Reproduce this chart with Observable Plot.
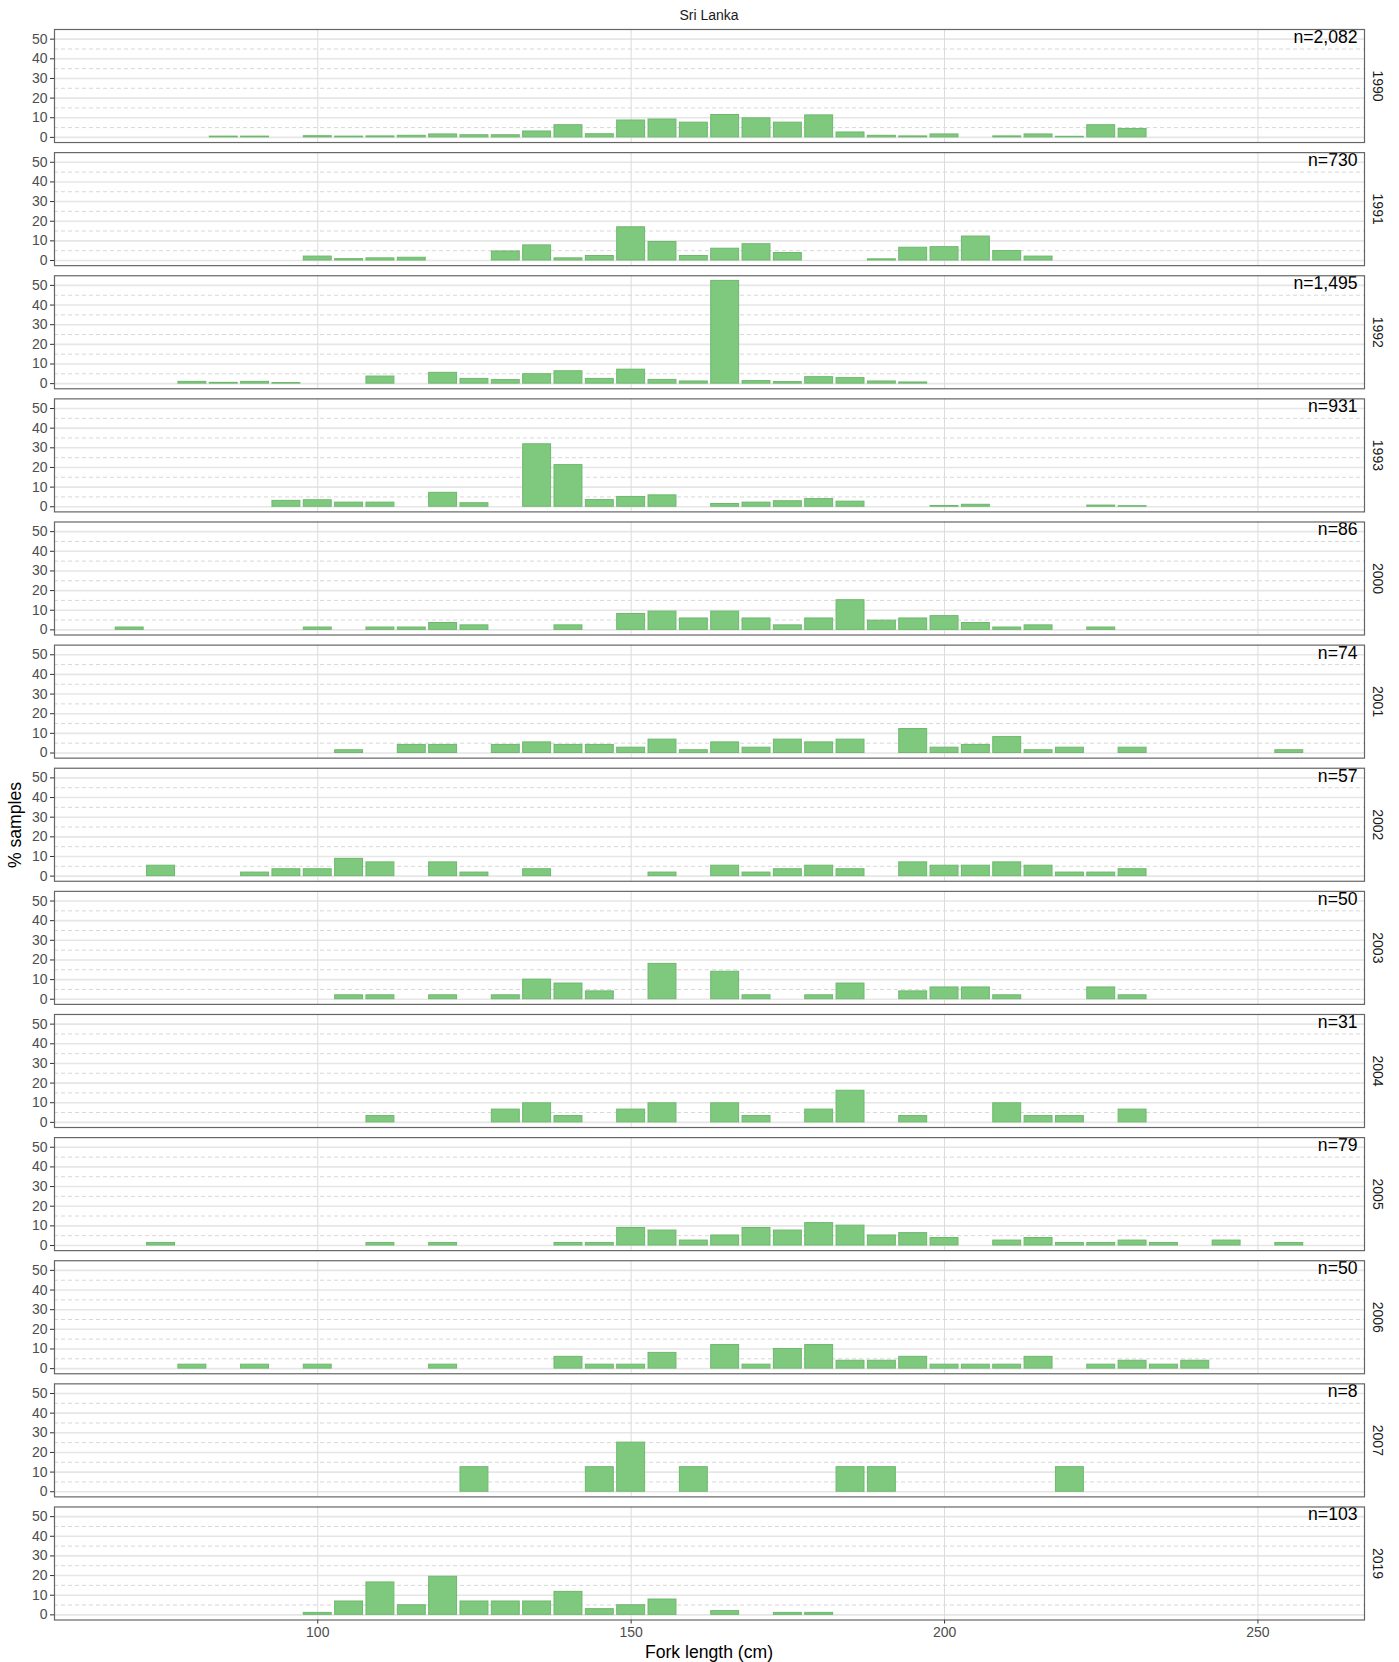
<!DOCTYPE html>
<html>
<head>
<meta charset="utf-8">
<script src="https://cdn.jsdelivr.net/npm/d3@7"></script>
<script src="https://cdn.jsdelivr.net/npm/@observablehq/plot@0.6"></script>
<style>
  body { margin: 0; background: #fff; font-family: "Liberation Sans", Arial, sans-serif; }
  #wrap { position: relative; width: 1399px; height: 1662px; }
  #title { position: absolute; top: 7px; left: 54px; width: 1310px; text-align: center; font-size: 14px; line-height: 16px; color: #1a1a1a; }
  #ylab { position: absolute; left: 15px; top: 825px; transform: translate(-50%, -50%) rotate(-90deg); font-size: 17.6px; white-space: nowrap; color: #000; }
  #xlab { position: absolute; top: 1642px; left: 54px; width: 1310px; text-align: center; font-size: 17.6px; line-height: 20px; color: #000; }
  #chart { position: absolute; left: 0; top: 0; }
</style>
</head>
<body>
<div id="wrap">
  <div id="chart"></div>
  <div id="title">Sri Lanka</div>
  <div id="ylab">% samples</div>
  <div id="xlab">Fork length (cm)</div>
</div>
<script>
// Sampling years (one facet row each) and the number of fish measured per year
const years = ["1990", "1991", "1992", "1993", "2000", "2001", "2002", "2003", "2004", "2005", "2006", "2007", "2019"];
const sampleSizes = [2082, 730, 1495, 931, 86, 74, 57, 50, 31, 79, 50, 8, 103];

// Length-frequency per year: [5 cm bin centre (cm), % of samples]
const f1990 = [[85,0.4],[90,0.4],[100,0.6],[105,0.4],[110,0.5],[115,0.8],[120,1.5],[125,1.1],[130,1.1],[135,3.0],[140,6.2],[145,1.6],[150,8.6],[155,9.1],[160,7.5],[165,11.4],[170,9.7],[175,7.5],[180,11.2],[185,2.5],[190,0.8],[195,0.5],[200,1.5],[210,0.5],[215,1.5],[220,0.3],[225,6.2],[230,4.3]];
const f1991 = [[100,2.0],[105,0.7],[110,1.1],[115,1.4],[130,4.6],[135,7.7],[140,1.1],[145,2.3],[150,16.9],[155,9.4],[160,2.3],[165,6.0],[170,8.3],[175,3.8],[190,0.6],[195,6.5],[200,6.8],[205,12.2],[210,4.8],[215,2.0]];
const f1992 = [[80,0.9],[85,0.4],[90,0.9],[95,0.3],[110,3.6],[120,5.5],[125,2.4],[130,1.8],[135,4.8],[140,6.3],[145,2.4],[150,7.1],[155,1.9],[160,1.1],[165,52.3],[170,1.3],[175,0.8],[180,3.3],[185,2.8],[190,1.1],[195,0.6]];
const f1993 = [[95,3.0],[100,3.3],[105,2.1],[110,2.1],[120,7.1],[125,1.8],[135,31.8],[140,21.2],[145,3.4],[150,5.0],[155,5.8],[165,1.4],[170,2.1],[175,2.8],[180,3.9],[185,2.6],[200,0.4],[205,1.0],[225,0.6],[230,0.3]];
const f2000 = [[70,1.2],[100,1.2],[110,1.2],[115,1.2],[120,3.5],[125,2.3],[140,2.3],[150,8.1],[155,9.3],[160,5.8],[165,9.3],[170,5.8],[175,2.3],[180,5.8],[185,15.1],[190,4.7],[195,5.8],[200,7.0],[205,3.5],[210,1.2],[215,2.3],[225,1.2]];
const f2001 = [[105,1.4],[115,4.1],[120,4.1],[130,4.1],[135,5.4],[140,4.1],[145,4.1],[150,2.7],[155,6.8],[160,1.4],[165,5.4],[170,2.7],[175,6.8],[180,5.4],[185,6.8],[195,12.2],[200,2.7],[205,4.1],[210,8.1],[215,1.4],[220,2.7],[230,2.7],[255,1.4]];
const f2002 = [[75,5.3],[90,1.8],[95,3.5],[100,3.5],[105,8.8],[110,7.0],[120,7.0],[125,1.8],[135,3.5],[155,1.8],[165,5.3],[170,1.8],[175,3.5],[180,5.3],[185,3.5],[195,7.0],[200,5.3],[205,5.3],[210,7.0],[215,5.3],[220,1.8],[225,1.8],[230,3.5]];
const f2003 = [[105,2],[110,2],[120,2],[130,2],[135,10],[140,8],[145,4],[155,18],[165,14],[170,2],[180,2],[185,8],[195,4],[200,6],[205,6],[210,2],[225,6],[230,2]];
const f2004 = [[110,3.2],[130,6.5],[135,9.7],[140,3.2],[150,6.5],[155,9.7],[165,9.7],[170,3.2],[180,6.5],[185,16.1],[195,3.2],[210,9.7],[215,3.2],[220,3.2],[230,6.5]];
const f2005 = [[75,1.3],[110,1.3],[120,1.3],[140,1.3],[145,1.3],[150,8.9],[155,7.6],[160,2.5],[165,5.1],[170,8.9],[175,7.6],[180,11.4],[185,10.1],[190,5.1],[195,6.3],[200,3.8],[210,2.5],[215,3.8],[220,1.3],[225,1.3],[230,2.5],[235,1.3],[245,2.5],[255,1.3]];
const f2006 = [[80,2],[90,2],[100,2],[120,2],[140,6],[145,2],[150,2],[155,8],[165,12],[170,2],[175,10],[180,12],[185,4],[190,4],[195,6],[200,2],[205,2],[210,2],[215,6],[225,2],[230,4],[235,2],[240,4]];
const f2007 = [[125,12.5],[145,12.5],[150,25],[160,12.5],[185,12.5],[190,12.5],[220,12.5]];
const f2019 = [[100,1.0],[105,6.8],[110,16.5],[115,4.9],[120,19.4],[125,6.8],[130,6.8],[135,6.8],[140,11.7],[145,2.9],[150,4.9],[155,7.8],[165,1.9],[175,1.0],[180,1.0]];

// Axis ticks and bin layout
const xTicks = [100, 150, 200, 250];
const yTicks = [0, 10, 20, 30, 40, 50];
const yMinor = [5, 15, 25, 35, 45];
const binWidth = 5;

const series = [f1990, f1991, f1992, f1993, f2000, f2001, f2002, f2003, f2004, f2005, f2006, f2007, f2019];
const rows = years.flatMap((yr, i) => series[i].map(([bin, pct]) => ({year: yr, bin, pct})));
const counts = years.map((yr, i) => ({year: yr, n: sampleSizes[i]}));
const maxPct = d3.max(rows, d => d.pct);

const chart = Plot.plot({
  width: 1399,
  height: 1662,
  marginTop: 29,
  marginBottom: 42.5,
  marginLeft: 54,
  marginRight: 35,
  style: {fontFamily: "Liberation Sans, Arial, sans-serif", background: "white"},
  x: {domain: [58, 267]},
  y: {domain: [-0.05 * maxPct, 1.05 * maxPct]},
  fy: {domain: years, paddingInner: 0.082, paddingOuter: 0, round: false, axis: null, label: null},
  marks: [
    Plot.gridY(yMinor, {stroke: "#d2d2d2", strokeOpacity: 1, strokeWidth: 0.9, strokeDasharray: "4,3"}),
    Plot.gridY(yTicks, {stroke: "#e6e6e6", strokeOpacity: 1, strokeWidth: 1.6}),
    Plot.gridX(xTicks, {stroke: "#dcdcdc", strokeOpacity: 1, strokeWidth: 1}),
    Plot.rect(rows, {
      x1: d => d.bin - binWidth / 2,
      x2: d => d.bin + binWidth / 2,
      y1: 0,
      y2: "pct",
      fy: "year",
      fill: "#7fc97f",
      stroke: "#6db86d",
      strokeWidth: 1,
      insetLeft: 1.7,
      insetRight: 1.7
    }),
    // sample size in the top-right corner of each row
    Plot.text(counts, {
      fy: "year",
      text: d => "n=" + d3.format(",")(d.n),
      frameAnchor: "top-right",
      textAnchor: "end",
      lineAnchor: "top",
      dx: -7,
      dy: 1,
      fontSize: 17.6,
      fill: "#000"
    }),
    // year strip labels to the right of each row
    Plot.text(years, {
      fy: d => d,
      text: d => d,
      frameAnchor: "right",
      textAnchor: "middle",
      lineAnchor: "middle",
      dx: 12.5,
      rotate: 90,
      fontSize: 14,
      fill: "#1a1a1a"
    }),
    Plot.axisY({ticks: yTicks, tickSize: 4, tickPadding: 3, fontSize: 14, fill: "#4d4d4d", stroke: "#333", label: null}),
    Plot.axisX({ticks: xTicks, tickSize: 4, tickPadding: 3, fontSize: 14, fill: "#4d4d4d", stroke: "#333", label: null}),
    Plot.frame({stroke: "#666", strokeWidth: 1.2})
  ]
});

document.getElementById("chart").appendChild(chart);
</script>
</body>
</html>
